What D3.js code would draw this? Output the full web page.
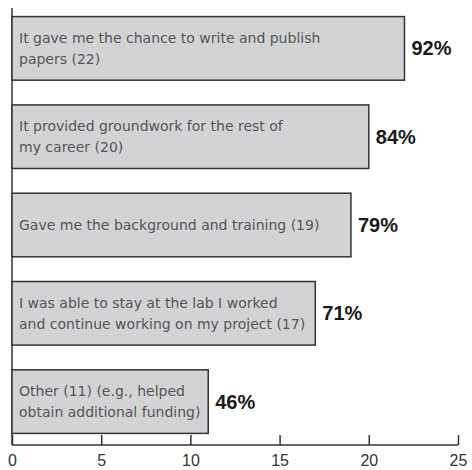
<!DOCTYPE html>
<html>
<head>
<meta charset="utf-8">
<script src="https://cdn.jsdelivr.net/npm/d3@7"></script>
<style>
  body { margin: 0; background: #fff; }
</style>
</head>
<body>
<svg width="472" height="470"></svg>
<script>
// chart data
const labels = [
    ["It gave me the chance to write and publish", "papers (22)"],
    ["It provided groundwork for the rest of", "my career (20)"],
    ["Gave me the background and training (19)"],
    ["I was able to stay at the lab I worked", "and continue working on my project (17)"],
    ["Other (11) (e.g., helped", "obtain additional funding)"]
];
const counts = [22, 20, 19, 17, 11];
const percents = ["92%", "84%", "79%", "71%", "46%"];
const ticks = [0, 5, 10, 15, 20, 25];

const render = () => {
    const svg = d3.select('svg');
    const data = counts.map((c, i) => ({ i, count: c, label: labels[i], pct: percents[i] }));

    const x = d3.scaleLinear()
        .domain([0, 25])
        .range([12, 458]);

    const y = d3.scaleBand()
        .domain(data.map(d => d.i))
        .range([6, 444])
        .paddingInner(0.28)
        .paddingOuter(0.12);

    // x axis
    const axis = svg.append("g")
        .attr("transform", "translate(0,445)")
        .call(d3.axisBottom(x).tickValues(ticks).tickSize(-10).tickPadding(10));
    axis.select(".domain").attr("stroke", "#333").attr("stroke-width", 1.5)
        .attr("d", `M${x(0)},0H${x(25)}`);
    axis.selectAll(".tick line").attr("stroke", "#333").attr("stroke-width", 1.5);
    axis.selectAll(".tick text")
        .attr("font-family", "Liberation Sans, Arial, sans-serif")
        .attr("font-size", 16)
        .attr("fill", "#333");

    // vertical axis line
    svg.append("line")
        .attr("x1", x(0)).attr("x2", x(0))
        .attr("y1", 8).attr("y2", 445)
        .attr("stroke", "#333")
        .attr("stroke-width", 1.5);

    const bar = svg.append("g")
      .selectAll("g")
      .data(data)
      .join("g");

    bar.append("rect")
        .attr("x", x(0))
        .attr("y", d => y(d.i))
        .attr("width", d => x(d.count) - x(0))
        .attr("height", y.bandwidth())
        .attr("fill", "#d3d3d5")
        .attr("stroke", "#333")
        .attr("stroke-width", 1.5);

    bar.append("text")
        .attr("font-family", "DejaVu Sans, sans-serif")
        .attr("font-size", 14)
        .attr("fill", "#555")
        .selectAll("tspan")
        .data(d => d.label.map((t, k) => ({ t, k, n: d.label.length, d })))
        .join("tspan")
          .attr("x", x(0) + 7)
          .attr("y", o => y(o.d.i) + y.bandwidth() / 2 + (o.k - (o.n - 1) / 2) * 21)
          .attr("dy", "0.35em")
          .text(o => o.t);

    bar.append("text")
        .attr("x", d => x(d.count) + 7)
        .attr("y", d => y(d.i) + y.bandwidth() / 2)
        .attr("dy", "0.35em")
        .attr("font-family", "Liberation Sans, Arial, sans-serif")
        .attr("font-weight", "bold")
        .attr("font-size", 20)
        .attr("fill", "#1a1a1a")
        .text(d => d.pct);

    return svg.node();
}

render();
</script>
</body>
</html>
